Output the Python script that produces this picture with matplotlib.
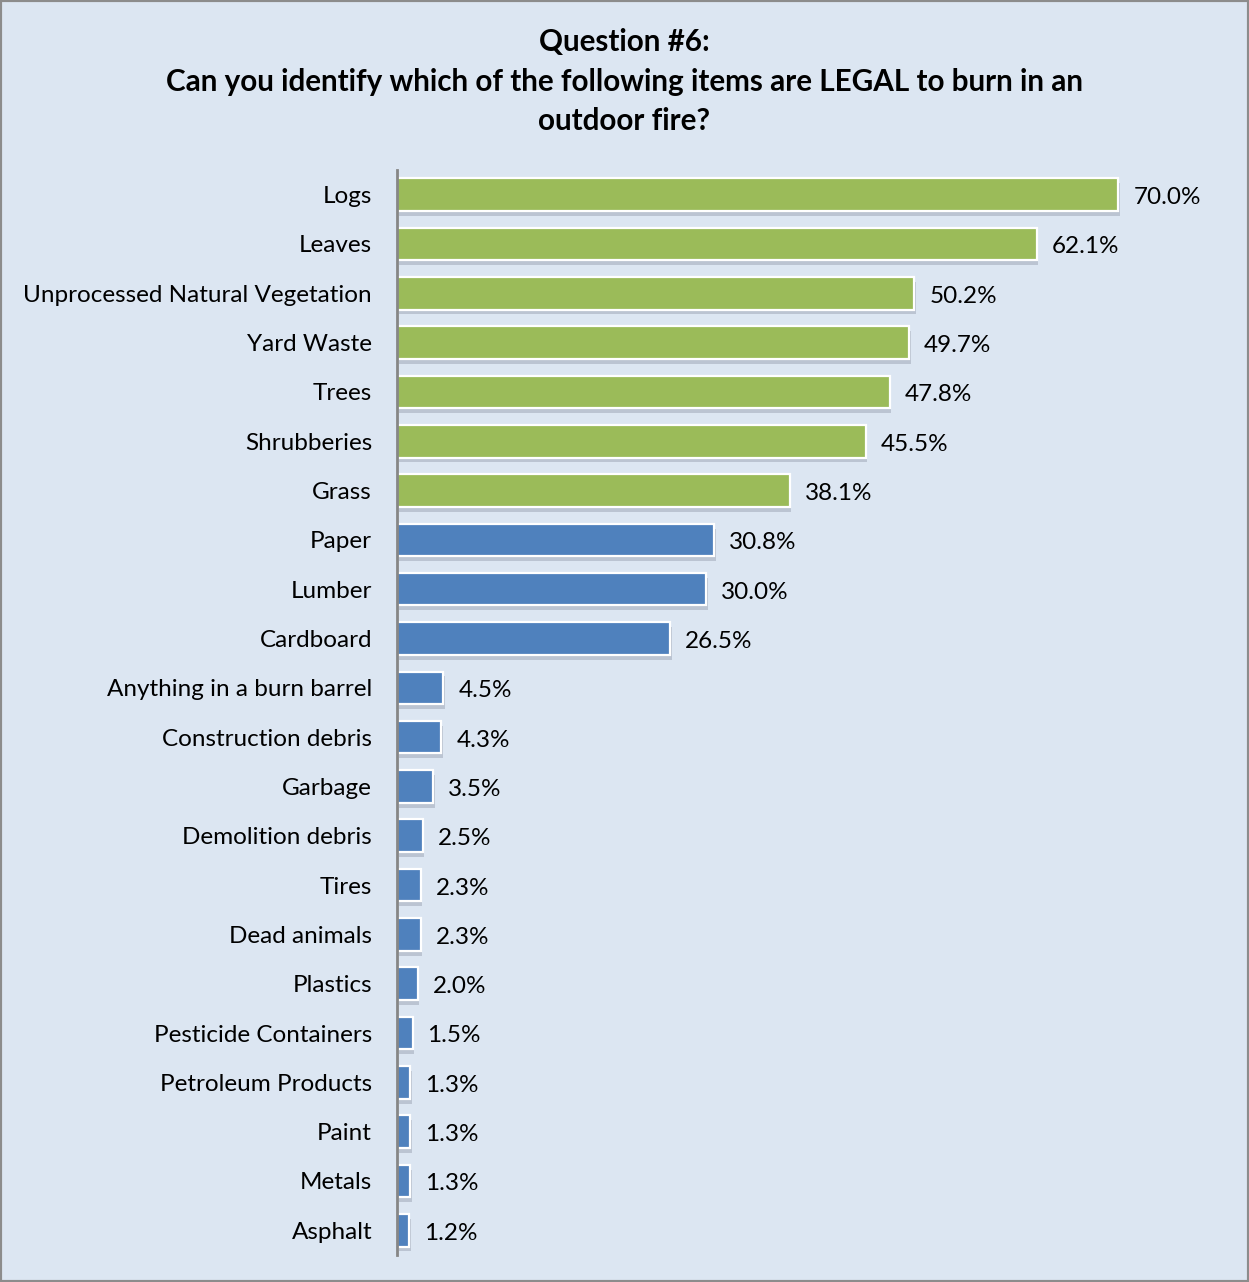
import matplotlib.pyplot as plt
import matplotlib.patches as mpatches

items = ['Logs', 'Leaves', 'Unprocessed Natural Vegetation', 'Yard Waste', 'Trees',
         'Shrubberies', 'Grass', 'Paper', 'Lumber', 'Cardboard',
         'Anything in a burn barrel', 'Construction debris', 'Garbage',
         'Demolition debris', 'Tires', 'Dead animals', 'Plastics',
         'Pesticide Containers', 'Petroleum Products', 'Paint', 'Metals', 'Asphalt']
pct = [70.0, 62.1, 50.2, 49.7, 47.8, 45.5, 38.1, 30.8, 30.0, 26.5,
       4.5, 4.3, 3.5, 2.5, 2.3, 2.3, 2.0, 1.5, 1.3, 1.3, 1.3, 1.2]
legal = [True] * 7 + [False] * 15

plt.rcParams['font.family'] = ['Lato', 'DejaVu Sans']

bg = '#dce6f2'
fig = plt.figure(figsize=(12.49, 12.82), dpi=100, facecolor=bg)
fig.patches.append(mpatches.Rectangle((0, 0), 1, 1, transform=fig.transFigure,
                                      fill=False, edgecolor='#8c8c8c', linewidth=3))
ax = fig.add_axes([0.3179, 0.0211, 0.66, 0.8463])
ax.set_facecolor(bg)

ypos = list(range(len(items)))
colors = ['#9bbb59' if g else '#4f81bd' for g in legal]

# soft drop shadow under each bar
ax.barh([y + 0.1 for y in ypos], pct, height=0.66, left=0.15,
        color='#7f8798', alpha=0.35, linewidth=0, zorder=1)
ax.barh(ypos, pct, height=0.66, color=colors, edgecolor='white',
        linewidth=1.6, zorder=2)

for y, v in zip(ypos, pct):
    ax.text(v + 1.45, y + 0.06, f'{v:.1f}%', va='center', ha='left',
            fontsize=17.5, color='black')

ax.set_xlim(0, 80)
ax.set_ylim(len(items) - 0.5, -0.5)
ax.set_yticks(ypos)
ax.set_yticklabels(items, fontsize=17.5)
ax.tick_params(axis='y', length=0, pad=18)
ax.set_xticks([])
for s in ['top', 'right', 'bottom']:
    ax.spines[s].set_visible(False)
ax.spines['left'].set_color('#868686')
ax.spines['left'].set_linewidth(2)

fig.text(0.5, 0.978, 'Question #6:\nCan you identify which of the following items are LEGAL to burn in an\noutdoor fire?',
         ha='center', va='top', fontsize=21.3, fontweight='bold', linespacing=1.5)

fig.savefig('out.png', facecolor=bg)
